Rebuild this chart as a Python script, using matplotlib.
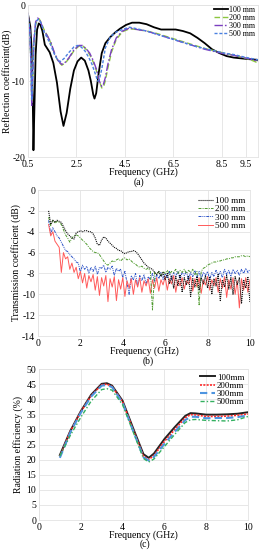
import numpy as np
import matplotlib
matplotlib.use('Agg')
import matplotlib.pyplot as plt

plt.rcParams['font.family'] = ['Liberation Serif', 'DejaVu Serif']
plt.rcParams['axes.unicode_minus'] = False
plt.rcParams['font.size'] = 7

# (a) reflection coefficient
f_a100 = [0.5, 0.6, 0.65, 0.7, 0.73, 0.77, 0.82, 0.88, 0.95, 1.02, 1.1, 1.2, 1.3, 1.4, 1.55, 1.7, 1.85,
          1.97, 2.1, 2.25, 2.4, 2.55, 2.7, 2.85, 3.0, 3.1, 3.2, 3.25, 3.32, 3.42, 3.55, 3.7, 3.9, 4.1, 4.3,
          4.55, 4.8, 5.1, 5.4, 5.7, 6.0, 6.3, 6.6, 6.9, 7.2, 7.5, 7.8, 8.1, 8.4, 8.7, 9.0, 9.3, 9.6, 10.0]
s11_100 = [-1.1, -2.8, -5.5, -12.0, -19.1, -13.5, -6.5, -3.2, -2.4, -2.6, -3.4, -5.2, -5.7, -6.2, -7.6,
           -10.2, -14.0, -15.9, -14.2, -11.0, -8.6, -7.4, -6.9, -7.3, -8.6, -10.0, -11.8, -12.3, -11.6,
           -9.0, -6.3, -5.0, -4.2, -3.6, -3.1, -2.6, -2.3, -2.3, -2.5, -2.9, -3.2, -3.2, -3.2, -3.4,
           -3.7, -4.3, -5.0, -5.8, -6.3, -6.7, -6.9, -7.0, -7.1, -7.2]
f_a200 = [0.5, 0.58, 0.63, 0.66, 0.7, 0.75, 0.82, 0.9, 0.97, 1.05, 1.15, 1.3, 1.45, 1.6, 1.75, 1.9, 2.05,
          2.2, 2.4, 2.6, 2.75, 2.9, 3.05, 3.2, 3.35, 3.45, 3.55, 3.62, 3.7, 3.8, 3.95, 4.15, 4.4, 4.7,
          5.0, 5.4, 5.8, 6.2, 6.6, 7.0, 7.4, 7.8, 8.2, 8.6, 9.0, 9.4, 9.7, 10.0]
s11_200 = [-1.2, -3.5, -8.0, -13.0, -9.5, -5.0, -2.5, -1.9, -1.8, -2.3, -3.1, -4.0, -5.0, -6.4, -7.4,
           -7.9, -7.6, -7.0, -6.0, -5.4, -5.3, -5.8, -6.5, -7.5, -8.8, -10.0, -10.9, -10.8, -9.9, -8.3,
           -6.2, -4.5, -3.5, -3.1, -3.2, -3.4, -3.7, -4.1, -4.5, -4.9, -5.3, -5.7, -6.0, -6.3, -6.6,
           -6.9, -7.2, -7.6]
s11_300 = [-1.0, -3.3, -8.2, -13.2, -9.0, -4.6, -2.2, -1.7, -1.8, -2.4, -3.3, -4.0, -4.9, -6.3, -7.3,
           -7.8, -7.5, -6.9, -5.9, -5.3, -5.3, -5.7, -6.3, -7.3, -8.6, -10.0, -10.7, -10.4, -9.5, -7.8,
           -5.9, -4.3, -3.4, -3.0, -3.2, -3.4, -3.8, -4.2, -4.6, -5.0, -5.4, -5.8, -6.1, -6.4, -6.6,
           -6.9, -7.1, -7.4]
f_a500 = [0.5, 0.58, 0.63, 0.66, 0.7, 0.75, 0.82, 0.9, 0.97, 1.05, 1.15, 1.3, 1.45, 1.6, 1.75, 1.85, 2.0,
          2.2, 2.4, 2.55, 2.7, 2.85, 3.0, 3.15, 3.3, 3.38, 3.45, 3.55, 3.7, 3.9, 4.1, 4.4, 4.7, 5.0,
          5.4, 5.8, 6.2, 6.6, 7.0, 7.4, 7.8, 8.2, 8.6, 9.0, 9.4, 9.7, 10.0]
s11_500 = [-1.2, -3.4, -8.0, -12.5, -9.0, -4.8, -2.4, -1.9, -1.9, -2.4, -3.4, -4.3, -5.3, -6.5, -7.3,
           -7.4, -7.0, -6.2, -5.5, -5.3, -5.5, -6.0, -6.8, -7.8, -9.2, -10.0, -9.8, -8.4, -5.6, -4.2,
           -3.6, -3.2, -2.9, -3.1, -3.4, -3.8, -4.2, -4.6, -5.0, -5.4, -5.7, -6.0, -6.3, -6.5, -6.8,
           -7.0, -7.2]

# (b) transmission coefficient, 0.5 .. 10 GHz in 0.1 GHz steps
f_b = np.round(np.arange(0.5, 10.01, 0.1), 2)
s21_100 = [-2.0, -3.3, -2.9, -3.1, -2.9, -3.0, -3.1, -3.5, -3.9, -4.2, -4.4, -4.6, -4.7, -4.1, -4.0,
           -3.9, -4.0, -3.9, -3.9, -4.0, -4.0, -4.2, -4.6, -5.2, -5.3, -4.8, -4.5, -4.6, -4.9, -5.1,
           -5.3, -5.5, -5.6, -5.8, -5.8, -6.0, -6.1, -6.0, -5.9, -5.9, -5.8, -5.9, -6.1, -6.4, -6.7,
           -7.0, -7.2, -7.4, -7.5, -7.6, -7.9, -8.1, -7.8, -8.3, -7.9, -8.6, -8.0, -9.0, -8.2, -9.4,
           -8.3, -9.2, -8.1, -9.8, -8.4, -9.1, -8.2, -10.2, -8.5, -9.3, -8.3, -9.6, -8.4, -9.0, -8.2,
           -9.4, -8.3, -10.0, -8.5, -9.2, -8.1, -10.6, -8.6, -9.3, -8.2, -9.5, -8.4, -10.0, -8.3, -9.1,
           -8.4, -10.9, -8.6, -9.4, -8.3, -10.8]
s21_200 = [-2.6, -3.4, -2.9, -3.2, -3.0, -3.1, -3.3, -3.8, -4.3, -4.6, -5.0, -4.6, -4.4, -4.3, -4.4,
           -4.6, -4.8, -5.0, -5.2, -5.5, -5.7, -5.9, -6.0, -6.0, -6.2, -6.5, -6.8, -7.1, -7.2, -7.0,
           -6.8, -6.9, -6.7, -6.6, -6.8, -6.6, -6.5, -6.7, -6.6, -6.8, -7.0, -7.1, -7.3, -7.4, -7.3,
           -7.5, -7.6, -7.5, -7.8, -11.5, -7.9, -8.1, -7.8, -8.2, -7.8, -8.0, -7.7, -8.1, -7.8, -7.9,
           -7.6, -8.0, -7.7, -7.9, -7.6, -8.0, -7.7, -7.9, -7.6, -8.1, -7.8, -11.0, -7.8, -7.5, -7.4,
           -7.2, -7.1, -7.0, -6.9, -6.9, -6.8, -6.8, -6.7, -6.7, -6.6, -6.6, -6.5, -6.5, -6.4, -6.4,
           -6.4, -6.3, -6.3, -6.4, -6.3, -6.4]
s21_300 = [-2.9, -4.2, -3.6, -4.0, -4.4, -4.6, -5.0, -5.4, -5.8, -5.9, -6.2, -6.4, -6.6, -6.9, -7.0,
           -7.9, -7.2, -7.6, -7.3, -8.0, -7.4, -7.8, -7.3, -8.1, -7.4, -7.5, -7.2, -7.9, -7.4, -7.6,
           -7.3, -8.2, -7.5, -7.8, -7.6, -8.4, -7.8, -8.9, -10.0, -8.2, -8.6, -8.0, -9.2, -8.2, -8.7,
           -8.1, -9.0, -8.3, -8.6, -8.0, -8.8, -8.1, -8.5, -7.9, -8.6, -8.0, -8.4, -7.8, -8.6, -7.9,
           -8.3, -7.8, -8.5, -7.9, -8.2, -7.8, -8.6, -7.9, -8.3, -7.7, -8.4, -7.8, -8.5, -7.9, -8.2,
           -7.8, -8.6, -7.9, -8.3, -7.7, -8.2, -7.8, -8.4, -7.6, -8.1, -7.7, -8.3, -7.6, -8.0, -7.7,
           -8.2, -7.6, -8.0, -7.5, -7.9, -7.6]
s21_500 = [-3.3, -4.4, -4.0, -4.9, -5.2, -5.5, -7.9, -6.0, -6.6, -6.4, -7.6, -7.0, -7.9, -7.4, -8.5,
           -7.8, -8.9, -8.0, -9.4, -8.2, -8.8, -8.1, -9.6, -8.3, -10.1, -8.4, -9.2, -8.2, -10.7, -8.5,
           -9.3, -8.3, -10.6, -8.6, -9.5, -8.4, -10.2, -8.7, -9.4, -8.5, -10.0, -8.6, -9.3, -8.4, -9.8,
           -8.7, -9.2, -8.5, -9.9, -8.6, -9.4, -8.4, -9.7, -8.6, -9.1, -8.3, -9.6, -8.5, -9.0, -8.2,
           -9.8, -8.6, -9.2, -8.4, -9.5, -8.7, -9.0, -8.3, -9.7, -8.5, -9.3, -8.4, -9.9, -8.6, -9.1,
           -8.3, -9.6, -8.6, -9.2, -8.4, -9.8, -8.5, -9.4, -8.3, -10.3, -8.6, -9.5, -8.4, -10.0, -8.7,
           -11.3, -8.5, -9.6, -8.4, -9.8, -8.6]

# (c) radiation efficiency
f_c = [1, 1.5, 2, 2.5, 3, 3.25, 3.5, 4, 4.5, 5, 5.25, 5.5, 6, 6.5, 7, 7.25, 7.5, 8, 8.5, 9, 9.5, 10]
eff_100 = [21.5, 29.5, 36.0, 41.5, 45.1, 45.3, 44.5, 39.5, 30.5, 21.8, 20.6, 22.0, 26.8, 30.8, 34.5,
           35.4, 35.3, 34.9, 34.9, 35.0, 35.2, 35.7]
eff_200 = [21.0, 29.3, 35.8, 41.2, 44.8, 45.0, 44.2, 39.2, 30.0, 21.2, 20.0, 21.4, 26.0, 30.0, 33.9,
           34.9, 34.8, 34.3, 34.3, 34.4, 34.7, 35.1]
eff_300 = [20.6, 29.0, 35.5, 40.9, 44.5, 44.7, 44.0, 38.9, 29.6, 20.8, 19.7, 20.9, 25.2, 29.2, 33.1,
           34.2, 34.2, 33.7, 33.8, 33.8, 34.1, 34.6]
eff_500 = [21.2, 28.0, 34.0, 39.4, 43.2, 43.5, 43.0, 38.2, 29.3, 20.4, 19.2, 20.2, 24.3, 28.4, 32.3,
           33.2, 33.3, 33.0, 32.9, 32.8, 33.2, 34.3]

grid_c = '#e3e3e3'


def style_axes(ax):
    ax.grid(True, color=grid_c, lw=0.6)
    ax.set_axisbelow(True)
    for sp in ax.spines.values():
        sp.set_color(grid_c)
        sp.set_linewidth(0.6)
    ax.tick_params(length=0, pad=2, labelsize=7)


fig = plt.figure(figsize=(2.63, 5.5), dpi=100)

# ---- (a)
ax1 = fig.add_axes([0.106, 0.7145, 0.875, 0.276])
ax1.plot(f_a100, s11_100, color='black', lw=1.3, label='100 mm')
ax1.plot(f_a200, s11_200, color='#8cc63f', lw=1.0, dashes=(4, 2), label='200 mm')
ax1.plot(f_a200, s11_300, color='#7b3fc0', lw=1.0, dashes=(6, 1.5, 1.2, 1.5), label='300 mm')
ax1.plot(f_a500, s11_500, color='#4a80e0', lw=1.0, dashes=(2.2, 1.3), label='500 mm')
ax1.set_xlim(0.5, 10)
ax1.set_ylim(-20, 0)
ax1.set_xticks([0.5, 2.5, 4.5, 6.5, 8.5, 9.5])
ax1.set_xticklabels(['0.5', '2.5', '4.5', '6.5', '8.5', '9.5'])
ax1.set_yticks([-20, -10, 0])
style_axes(ax1)
ax1.set_ylabel('Reflection coefficeint(dB)', fontsize=7, labelpad=0)
ax1.set_xlabel('Frequency (GHz)', fontsize=7, labelpad=-1)
ax1.legend(loc='upper right', bbox_to_anchor=(1.01, 1.025), frameon=False, fontsize=5.8,
           handlelength=1.7, handletextpad=0.2, labelspacing=0.0, borderpad=0.1)
fig.text(0.53, 1 - 182 / 550, '(a)', ha='center', va='center', fontsize=7)

# ---- (b)
ax2 = fig.add_axes([0.1445, 0.389, 0.806, 0.2655])
l300, = ax2.plot(f_b, s21_300, color='#2f55c8', lw=0.7, dashes=(3, 1, 1, 1, 1, 1), label='300 mm')
l500, = ax2.plot(f_b, s21_500, color='#ff5a5a', lw=0.7, label='500 mm')
l200, = ax2.plot(f_b, s21_200, color='#4f9a2e', lw=0.7, dashes=(3, 1.2, 1, 1.2), label='200 mm')
l100, = ax2.plot(f_b, s21_100, color='#111111', lw=0.8, dashes=(1, 0.8), label='100 mm')
ax2.set_xlim(0, 10)
ax2.set_ylim(-14, 0)
ax2.set_xticks([0, 2, 4, 6, 8, 10])
ax2.set_yticks(range(-14, 1, 2))
style_axes(ax2)
ax2.set_ylabel('Transmission coefficient (dB)', fontsize=7, labelpad=1)
ax2.set_xlabel('Frequency (GHz)', fontsize=7, labelpad=-1)
ax2.legend(handles=[l100, l200, l300, l500], loc='upper right', bbox_to_anchor=(1.01, 1.0),
           frameon=False, fontsize=6.6, handlelength=1.7, handletextpad=0.2, labelspacing=0.0,
           borderpad=0.2)
fig.text(0.565, 1 - 361 / 550, '(b)', ha='center', va='center', fontsize=7)

# ---- (c)
ax3 = fig.add_axes([0.148, 0.0545, 0.795, 0.2745])
ax3.plot(f_c, eff_100, color='#222222', lw=1.4, label='100mm')
ax3.plot(f_c, eff_200, color='#ff2a2a', lw=1.2, dashes=(1.2, 0.8), label='200mm')
ax3.plot(f_c, eff_300, color='#4d94e0', lw=1.5, dashes=(3.5, 2), label='300mm')
ax3.plot(f_c, eff_500, color='#33b060', lw=1.0, dashes=(3, 1.5, 1, 1.5), label='500mm')
ax3.set_xlim(0, 10)
ax3.set_ylim(0, 50)
ax3.set_xticks([0, 2, 4, 6, 8, 10])
ax3.set_yticks(range(0, 51, 5))
style_axes(ax3)
ax3.set_ylabel('Radiation efficiency (%)', fontsize=7, labelpad=2)
ax3.set_xlabel('Frequency (GHz)', fontsize=7, labelpad=-1)
ax3.legend(loc='upper right', bbox_to_anchor=(1.01, 1.01), frameon=False, fontsize=6.4,
           handlelength=1.7, handletextpad=0.2, labelspacing=0.0, borderpad=0.15)
fig.text(0.55, 1 - 544 / 550, '(c)', ha='center', va='center', fontsize=7)

fig.savefig('out.png', dpi=100)
